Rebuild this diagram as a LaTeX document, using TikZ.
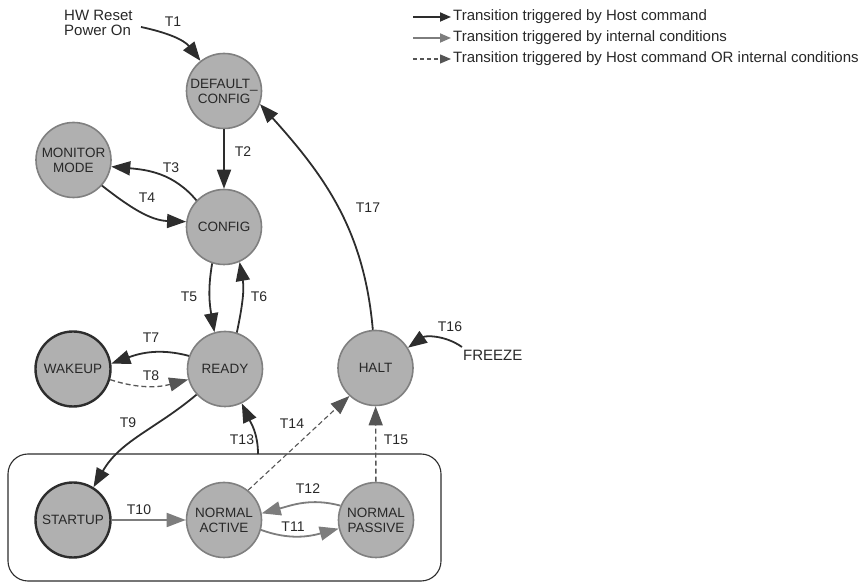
\documentclass[tikz,border=0pt]{standalone}
\usepackage{fontspec}
\setmainfont{Liberation Sans}
\usetikzlibrary{arrows.meta}
\definecolor{statefill}{RGB}{176,176,176}
\definecolor{stateedge}{RGB}{128,128,128}
\definecolor{inkdark}{RGB}{45,45,45}
\definecolor{inkgray}{RGB}{125,125,125}
\definecolor{inkdash}{RGB}{85,85,85}
\definecolor{txt}{RGB}{40,40,40}
\begin{document}
\begin{tikzpicture}[x=1pt,y=1pt,
  state/.style={circle, minimum size=75pt, inner sep=0pt, fill=statefill,
    draw=stateedge, line width=1.6pt, align=center, text=txt,
    font=\fontsize{13.5}{15}\selectfont},
  initstate/.style={state, draw=inkdark, line width=2.4pt},
  tip/.style={-{Triangle[length=19pt,width=14pt]}},
  host/.style={tip, draw=inkdark, line width=1.8pt},
  internal/.style={tip, draw=inkgray, line width=1.8pt},
  either/.style={tip, draw=inkdash, line width=1.1pt, dash pattern=on 5pt off 3pt},
  lbl/.style={text=txt, font=\fontsize{14}{15}\selectfont, inner sep=0pt},
  legtext/.style={text=txt, font=\fontsize{15}{16}\selectfont, anchor=west, inner sep=0pt},
  legtip/.style={-{Triangle[length=11pt,width=9pt]}}
]
\useasboundingbox (0,0) rectangle (867,583);

% cluster frame around the normal-operation states
\draw[draw=inkdark, line width=1.1pt, rounded corners=20pt] (8,2) rectangle (441,129);

% states
\node[state] (dc) at (224,492) {DEFAULT\_\\CONFIG};
\node[state] (mon) at (73.5,423) {MONITOR\\MODE};
\node[state] (cfg) at (224,356) {CONFIG};
\node[state] (rdy) at (225,214) {READY};
\node[initstate] (wak) at (73,214) {WAKEUP};
\node[state] (halt) at (375.5,215) {HALT};
\node[initstate] (stu) at (73,63) {STARTUP};
\node[state] (na) at (224,63) {NORMAL\\ACTIVE};
\node[state] (np) at (376,63) {NORMAL\\PASSIVE};

% external triggers
\node[lbl, anchor=west, align=left, font=\fontsize{15}{15}\selectfont] (hw) at (64,560.5) {HW Reset\\Power On};
\coordinate (t1s) at (141,556);
\node[lbl, anchor=west, font=\fontsize{15}{15}\selectfont] (frz) at (463,228) {FREEZE};
\coordinate (t16s) at (462,236);
\coordinate (t13s) at (258,129);

% transitions
\draw[host] (t1s) to[out=-12, in=128] (dc);
\draw[host] (dc) -- (cfg);
\draw[host] (cfg.136) to[out=130, in=-5] (mon.-10);
\draw[host] (mon.-42) to[out=-38, in=178] (cfg.172);
\draw[host] (cfg.-108) to[out=-100, in=100] (rdy.106);
\draw[host] (rdy.72) to[out=78, in=-80] (cfg.-66);
\draw[host] (rdy.160) to[out=165, in=20] (wak.8);
\draw[either, line width=1.3pt] (wak.-16) to[out=-18, in=-165] (rdy.-164);
\draw[host] (rdy.-138) to[out=-140, in=60] (stu.58);
\draw[internal] (stu) -- (na);
\draw[internal] (na.-15) to[out=-20, in=-165] (np.-167);
\draw[internal] (np.158) to[out=165, in=15] (na.10);
\draw[host] (t13s) to[out=90, in=-65] (rdy.-64);
\draw[either] (na.51) -- (halt.-133);
\draw[either, line width=1.4pt] (np) -- (halt);
\draw[host] (t16s) to[out=145, in=35] (halt.32);
\draw[host] (halt.94) to[out=95, in=-48] (dc.-20);

% transition labels
\node[lbl] (l1) at (173,561) {T1};
\node[lbl] (l2) at (243,431) {T2};
\node[lbl] (l3) at (171,415) {T3};
\node[lbl] (l4) at (147,385) {T4};
\node[lbl] (l5) at (189,286) {T5};
\node[lbl] (l6) at (259,286) {T6};
\node[lbl] (l7) at (151,245) {T7};
\node[lbl] (l8) at (151,207) {T8};
\node[lbl] (l9) at (128,160) {T9};
\node[lbl] (l10) at (139,73) {T10};
\node[lbl] (l11) at (293,56) {T11};
\node[lbl] (l12) at (308,94) {T12};
\node[lbl] (l13) at (242,143) {T13};
\node[lbl] (l14) at (292,159) {T14};
\node[lbl] (l15) at (396,143) {T15};
\node[lbl] (l16) at (450,256) {T16};
\node[lbl] (l17) at (368,375) {T17};

% legend
\coordinate (ga) at (413,566); \coordinate (gb) at (451,566);
\coordinate (ha) at (413,545); \coordinate (hb) at (451,545);
\coordinate (ia) at (413,524); \coordinate (ib) at (451,524);
\draw[host, legtip] (ga) -- (gb);
\draw[internal, legtip] (ha) -- (hb);
\draw[either, line width=1.2pt, dash pattern=on 4pt off 3pt, legtip] (ia) -- (ib);
\node[legtext] (leg1) at (453,566) {Transition triggered by Host command};
\node[legtext] (leg2) at (453,545) {Transition triggered by internal conditions};
\node[legtext] (leg3) at (453,524) {Transition triggered by Host command OR internal conditions};
\end{tikzpicture}
\end{document}
